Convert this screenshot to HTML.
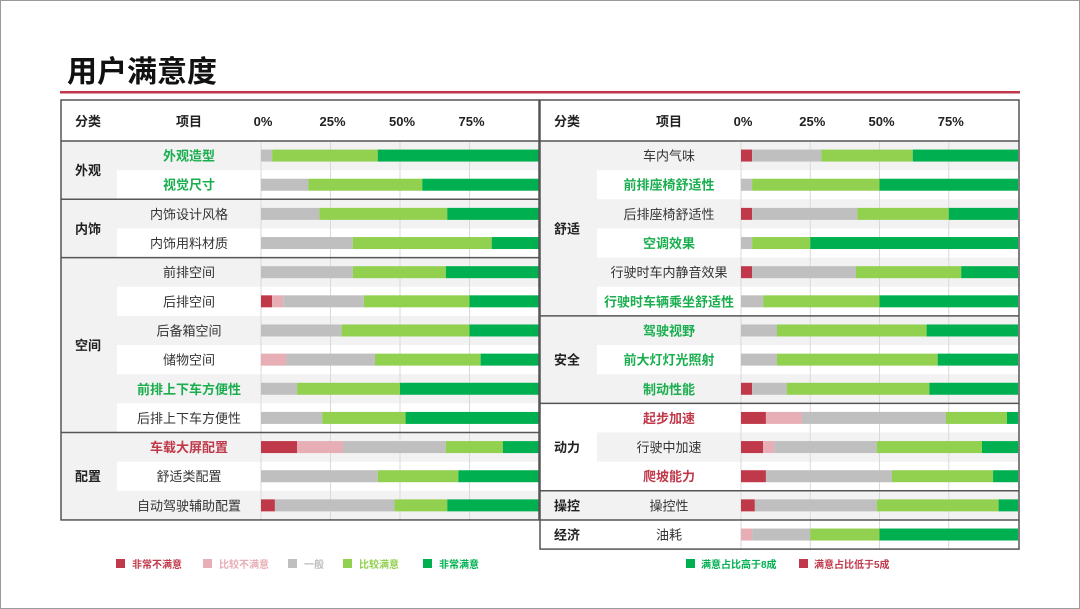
<!DOCTYPE html>
<html><head><meta charset="utf-8"><style>
html,body{margin:0;padding:0;background:#fff}
svg{display:block;font-family:"Liberation Sans","Noto Sans CJK SC",sans-serif}
</style></head><body>
<svg id="c" width="1080" height="609" viewBox="0 0 1080 609" xmlns="http://www.w3.org/2000/svg">
<rect x="0.5" y="0.5" width="1079" height="608" fill="#fff" stroke="#9a9a9a"/>
<text x="67" y="82" font-size="30" font-weight="bold" fill="#111">用户满意度</text>
<rect x="60" y="91" width="960" height="2.5" fill="#c0394b"/>
<g id="left"></g><g id="right"></g><g id="legend"></g>
</svg>
<script>
const leftItems=["外观造型","视觉尺寸","内饰设计风格","内饰用料材质","前排空间","后排空间","后备箱空间","储物空间","前排上下车方便性","后排上下车方便性","车载大屏配置","舒适类配置","自动驾驶辅助配置"];
const leftGroups=[["外观",2],["内饰",2],["空间",6],["配置",3]];
const leftStyle=["g","g","n","n","n","n","n","n","g","n","r","n","n"];
const leftVerySat=[58,42,33,17,33.5,25,25,21,50,48,13,29,33];
const leftSat=[38,41,46,50,33.5,38,46,38,37,30,20.5,29,19];
const leftNeutral=[4,17,21,33,33,29,29,32,13,22,37,42,43];
const leftDissat=[0,0,0,0,0,4,0,9,0,0,16.5,0,0];
const leftVeryDissat=[0,0,0,0,0,4,0,0,0,0,13,0,5];

const rightItems=["车内气味","前排座椅舒适性","后排座椅舒适性","空调效果","行驶时车内静音效果","行驶时车辆乘坐舒适性","驾驶视野","前大灯灯光照射","制动性能","起步加速","行驶中加速","爬坡能力","操控性","油耗"];
const rightGroups=[["舒适",6],["安全",3],["动力",3],["操控",1],["经济",1]];
const rightStyle=["n","g","n","g","n","g","g","g","g","r","n","r","n","n"];
const rightVerySat=[38,50,25,75,20.5,50,33,29,32,4,13,9,7,50];
const rightSat=[33,46,33,21,38,42,54,58,51.5,22,38,36.5,44,25];
const rightNeutral=[25,4,38,4,37.5,8,13,13,12.5,52,37,45.5,44,21];
const rightDissat=[0,0,0,0,0,0,0,0,0,13,4,0,0,4];
const rightVeryDissat=[4,0,4,0,4,0,0,0,4,9,8,9,5,0];

const tickLabels=["0%","25%","50%","75%"];
const tickVals=[0,25,50,75];
const legendLeft=["非常不满意","比较不满意","一般","比较满意","非常满意"];
const legendRight=["满意占比高于8成","满意占比低于5成"];

const COLORS=["#c0394b","#e8aeb6","#bfbfbf","#92d050","#00b050"];
const TXT={g:"#1aae4f",r:"#c0394b",n:"#333"};
const NS="http://www.w3.org/2000/svg";
function mk(p,tag,attrs){const e=document.createElementNS(NS,tag);for(const k in attrs)e.setAttribute(k,attrs[k]);p.appendChild(e);return e;}

function panel(gid,x0,x1,itemX,x0pct,x100pct,items,groups,styles,series,catBg,prefix){
  const g=document.getElementById(gid);
  const top=100,hdr=141,rh=29.15;
  const sx=v=>x0pct+(x100pct-x0pct)*v/100;
  const bottom=hdr+rh*items.length;
  // row backgrounds
  items.forEach((it,i)=>{
    const y=hdr+i*rh;
    if(i%2===0){const r=mk(g,'rect',{x:itemX,y:y,width:x1-itemX,height:rh,fill:'#f2f2f2'});
      
      }
  });
  // category cells
  let idx=0;
  groups.forEach((gr,gi)=>{
    const y=hdr+idx*rh,h=gr[1]*rh;
    const r=mk(g,'rect',{x:x0,y:y,width:itemX-x0,height:h,fill:catBg[gi]});
    
    
    const t=mk(g,'text',{x:x0+27,y:y+h/2+5,'font-size':13,'font-weight':'bold','text-anchor':'middle',fill:'#222'});
    t.textContent=gr[0];
    
    
    idx+=gr[1];
  });
  // gridlines
  [0,25,50,75].forEach(v=>{
    const l=mk(g,'line',{x1:sx(v),x2:sx(v),y1:hdr,y2:bottom,stroke:'#d9d9d9','stroke-width':1});
    
    
  });
  // header
  const h1=mk(g,'text',{x:x0+27,y:126,'font-size':13,'font-weight':'bold','text-anchor':'middle',fill:'#222'});h1.textContent='分类';
  
  
  const h2=mk(g,'text',{x:(itemX+x0pct)/2,y:126,'font-size':13,'font-weight':'bold','text-anchor':'middle',fill:'#222'});h2.textContent='项目';
  
  
  tickVals.forEach((v,i)=>{
    const t=mk(g,'text',{x:sx(v)+2,y:126,'font-size':13,'font-weight':'bold','text-anchor':'middle',fill:'#222'});
    t.textContent=tickLabels[i];
    
    
  });
  // items and bars
  items.forEach((it,i)=>{
    const cy=hdr+i*rh+rh/2;
    const st=styles[i];
    const t=mk(g,'text',{x:(itemX+x0pct)/2,y:cy+5,'font-size':13,'font-weight':st==='n'?'normal':'bold','text-anchor':'middle',fill:TXT[st]});
    t.textContent=it;
    
    
    let acc=0;
    series.forEach((s,k)=>{
      const v=s[i];
      if(v>0){
        const b=mk(g,'rect',{x:sx(acc),y:cy-6,width:sx(acc+v)-sx(acc),height:12,fill:COLORS[k]});
        
        
      }
      acc+=v;
    });
  });
  // borders
  const bd=mk(g,'rect',{x:x0,y:top,width:x1-x0,height:bottom-top,fill:'none',stroke:'#555','stroke-width':1.5});
  
  
  const hl=mk(g,'line',{x1:x0,x2:x1,y1:hdr,y2:hdr,stroke:'#555','stroke-width':1.5});
  
  
  idx=0;
  groups.forEach((gr,gi)=>{
    idx+=gr[1];
    if(gi<groups.length-1){
      const y=hdr+idx*rh;
      const l=mk(g,'line',{x1:x0,x2:x1,y1:y,y2:y,stroke:'#555','stroke-width':1.5});
      
      
    }
  });
}
panel('left',61,539,117,261,539,leftItems,leftGroups,leftStyle,[leftVeryDissat,leftDissat,leftNeutral,leftSat,leftVerySat],['#f2f2f2','#f2f2f2','#f2f2f2','#f2f2f2'],'left');
panel('right',540,1019,597,741,1018,rightItems,rightGroups,rightStyle,[rightVeryDissat,rightDissat,rightNeutral,rightSat,rightVerySat],['#f2f2f2','#f2f2f2','#ffffff','#f2f2f2','#ffffff'],'right');

const lg=document.getElementById('legend');
const lx=[116,203,288,343,423];
legendLeft.forEach((s,i)=>{
  const r=mk(lg,'rect',{x:lx[i],y:559,width:9,height:9,fill:COLORS[i]});
  
  
  const t=mk(lg,'text',{x:lx[i]+16,y:568,'font-size':10,'font-weight':'bold',fill:i==2?'#bfbfbf':COLORS[i]});
  t.textContent=s;
  
  
});
const rx=[686,799],rc=["#00b050","#c0394b"];
legendRight.forEach((s,i)=>{
  const r=mk(lg,'rect',{x:rx[i],y:559,width:9,height:9,fill:rc[i]});
  
  
  const t=mk(lg,'text',{x:rx[i]+15,y:568,'font-size':10,'font-weight':'bold',fill:rc[i]});
  t.textContent=s;
  
  
});
</script>
</body></html>
